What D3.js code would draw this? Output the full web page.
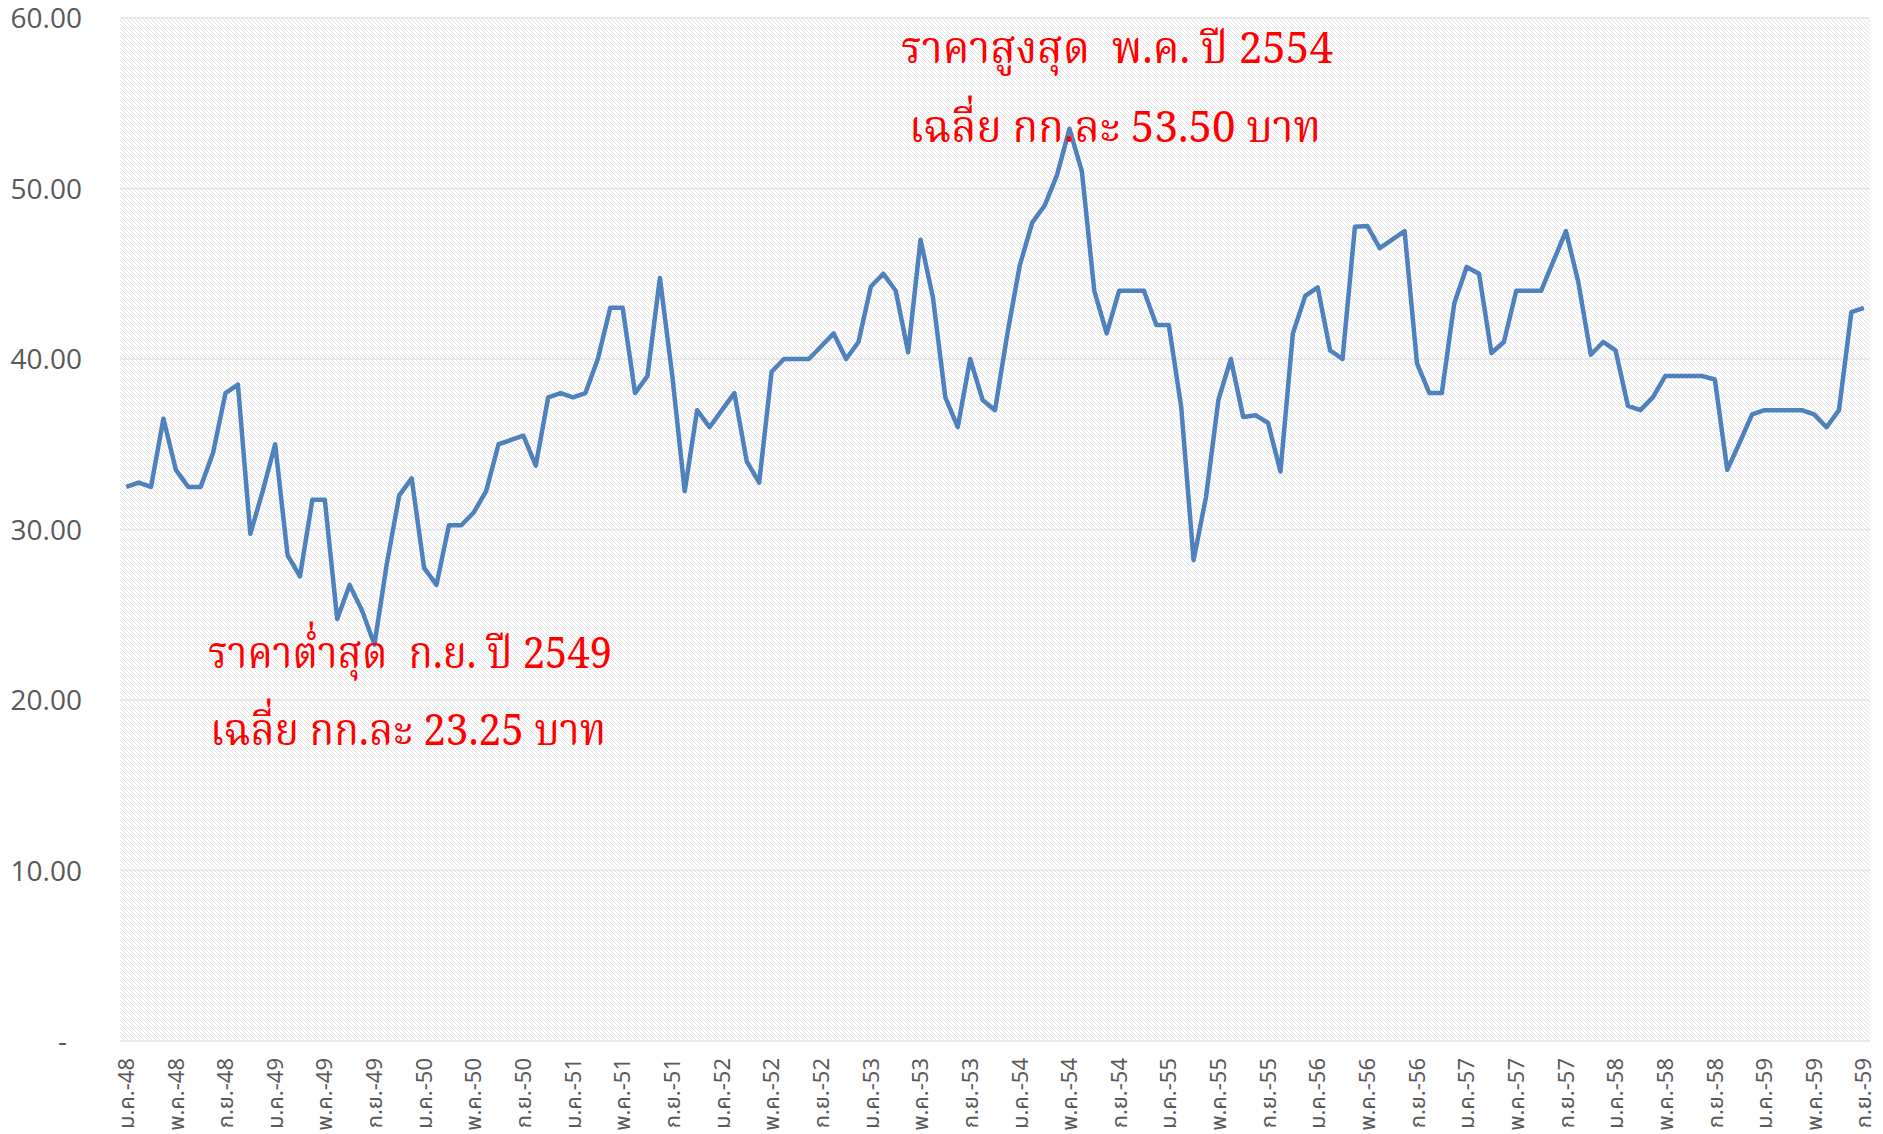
<!DOCTYPE html>
<html>
<head>
<meta charset="utf-8">
<script src="https://cdn.jsdelivr.net/npm/d3@7"></script>
<style>
  body { margin: 0; background: #fff; }
  svg { display: block; }
</style>
</head>
<body>
<svg id="chart" width="1883" height="1134"></svg>
<script>
// Month names and Buddhist-era years (short) used for the category axis
const monthNames = ["ม.ค.", "ก.พ.", "มี.ค.", "เม.ย.", "พ.ค.", "มิ.ย.", "ก.ค.", "ส.ค.", "ก.ย.", "ต.ค.", "พ.ย.", "ธ.ค."];
const years = [48, 49, 50, 51, 52, 53, 54, 55, 56, 57, 58, 59];

// Average price (baht / kg), ม.ค.-48 .. ก.ย.-59
const prices = [
  32.5, 32.75, 32.5, 36.5, 33.5, 32.5, 32.5, 34.5, 38, 38.5, 29.75, 32.25,
  35, 28.5, 27.25, 31.75, 31.75, 24.75, 26.75, 25.25, 23.25, 28, 32, 33,
  27.75, 26.75, 30.25, 30.25, 31, 32.25, 35, 35.25, 35.5, 33.75, 37.75, 38,
  37.75, 38, 40, 43, 43, 38, 39, 44.75, 39, 32.25, 37, 36,
  37, 38, 34, 32.75, 39.25, 40, 40, 40, 40.75, 41.5, 40, 41,
  44.25, 45, 44, 40.4, 47, 43.6, 37.75, 36, 40, 37.6, 37, 41.5,
  45.5, 48, 49, 50.8, 53.5, 51, 44, 41.5, 44, 44, 44, 42,
  42, 37.2, 28.2, 31.9, 37.6, 40, 36.6, 36.7, 36.25, 33.4, 41.5, 43.7,
  44.2, 40.5, 40, 47.75, 47.8, 46.5, 47, 47.5, 39.75, 38, 38, 43.25,
  45.4, 45, 40.35, 41, 44, 44, 44, 45.75, 47.5, 44.5, 40.25, 41,
  40.5, 37.25, 37, 37.75, 39, 39, 39, 39, 38.8, 33.5, 35.1, 36.75,
  37, 37, 37, 37, 36.75, 36, 37, 42.75, 43
];

// Category labels, one per month
const categories = [];
years.forEach((y) => monthNames.forEach((m) => categories.push(`${m}-${y}`)));
categories.length = prices.length;

const yTicks = [0, 10, 20, 30, 40, 50, 60];

// Annotation texts
const highNote = ["ราคาสูงสุด  พ.ค. ปี 2554", "เฉลี่ย กก.ละ 53.50 บาท"];
const lowNote = ["ราคาต่ำสุด  ก.ย. ปี 2549", "เฉลี่ย กก.ละ 23.25 บาท"];

const svg = d3.select("#chart");
const plot = { left: 120, right: 1870, top: 18, bottom: 1041 };

const x = d3.scaleBand().domain(categories).range([plot.left, plot.right]);
const y = d3.scaleLinear().domain([0, 60]).range([plot.bottom, plot.top]);

// Hatched plot background (downward diagonal)
const defs = svg.append("defs");
const pat = defs.append("pattern")
  .attr("id", "hatch")
  .attr("patternUnits", "userSpaceOnUse")
  .attr("width", 4)
  .attr("height", 4);
pat.append("rect").attr("width", 4).attr("height", 4).attr("fill", "#fff");
pat.append("path")
  .attr("d", "M-1,-1 L5,5 M-1,3 L1,5 M3,-1 L5,1")
  .attr("stroke", "#dedede")
  .attr("stroke-width", 0.9);

svg.append("rect")
  .attr("x", plot.left)
  .attr("y", plot.top)
  .attr("width", plot.right - plot.left)
  .attr("height", plot.bottom - plot.top)
  .attr("fill", "url(#hatch)");

// Gridlines
svg.append("g")
  .selectAll("line")
  .data(yTicks)
  .enter().append("line")
  .attr("x1", plot.left)
  .attr("x2", plot.right)
  .attr("y1", (d) => y(d))
  .attr("y2", (d) => y(d))
  .attr("stroke", "#e3e3e3")
  .attr("stroke-width", 1.5);

// Y axis labels
const yAxis = svg.append("g")
  .attr("transform", `translate(${plot.left - 38},0)`)
  .call(d3.axisLeft(y).tickValues(yTicks).tickSize(0).tickPadding(0)
    .tickFormat((d) => (d === 0 ? "-" : d.toFixed(2))));
yAxis.select(".domain").remove();
yAxis.selectAll("text")
  .attr("font-family", "'Open Sans', 'Noto Sans', sans-serif")
  .attr("font-size", "28px")
  .attr("fill", "#595959")
  .attr("dy", "0.34em")
  .attr("dx", (d) => (d === 0 ? -15 : 0));

// X axis labels, every 4th month, rotated
const xAxis = svg.append("g")
  .attr("transform", `translate(0,${plot.bottom})`)
  .call(d3.axisBottom(x)
    .tickValues(categories.filter((c, i) => i % 4 === 0))
    .tickSize(0));
xAxis.select(".domain").remove();
xAxis.selectAll("text")
  .attr("font-family", "'Noto Sans Thai', 'Noto Sans', sans-serif")
  .attr("font-size", "22px")
  .attr("fill", "#595959")
  .attr("text-anchor", "end")
  .attr("transform", "rotate(-90)")
  .attr("x", -17)
  .attr("y", 0)
  .attr("dy", "0.35em");

// Price line
const line = d3.line()
  .x((d, i) => x(categories[i]) + x.bandwidth() / 2)
  .y((d) => y(d));

svg.append("path")
  .datum(prices)
  .attr("d", line)
  .attr("fill", "none")
  .attr("stroke", "#4f81bd")
  .attr("stroke-width", 4.5)
  .attr("stroke-linejoin", "round");

// Red annotations
function note(lines, xs, ys, widths) {
  svg.append("g")
    .selectAll("text")
    .data(lines)
    .enter().append("text")
    .attr("x", (d, i) => xs[i])
    .attr("y", (d, i) => ys[i])
    .attr("font-family", "'Noto Serif Thai', 'Liberation Serif', serif")
    .attr("font-size", "44px")
    .attr("fill", "#ff0000")
    .attr("textLength", (d, i) => widths[i])
    .attr("lengthAdjust", "spacingAndGlyphs")
    .style("white-space", "pre")
    .text((d) => d);
}
note(highNote, [901, 909], [63, 142], [432, 412]);
note(lowNote, [208, 210], [668, 745], [404, 396]);
</script>
</body>
</html>
